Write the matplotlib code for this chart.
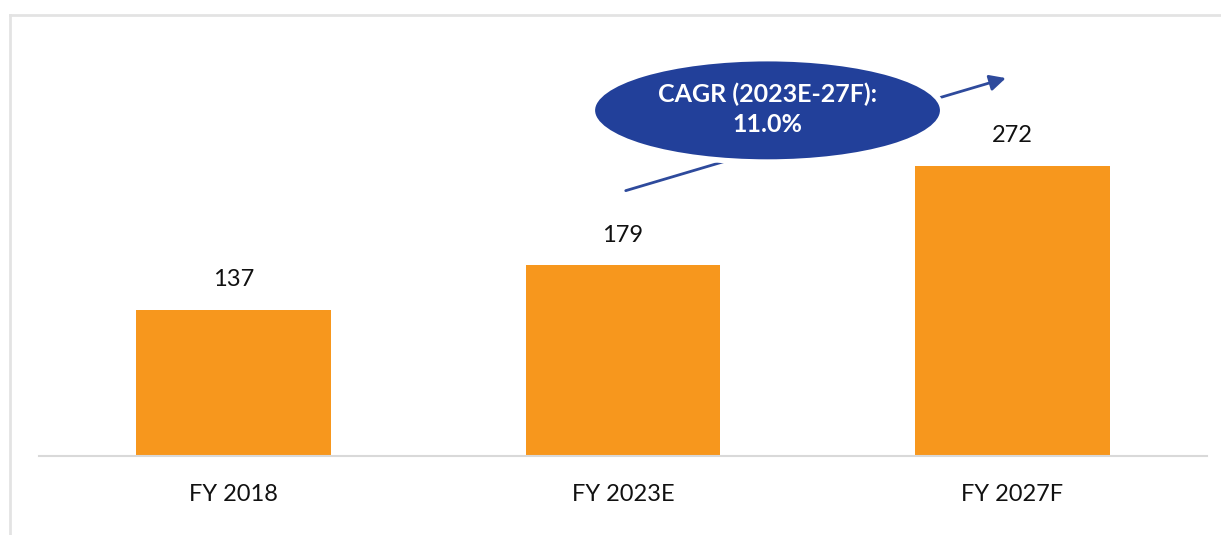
import matplotlib.pyplot as plt
from matplotlib.patches import Ellipse
from matplotlib.lines import Line2D

# market size by fiscal year
years = ["FY 2018", "FY 2023E", "FY 2027F"]
values = [137, 179, 272]
cagr_text = "CAGR (2023E-27F):\n11.0%"

bar_color = "#F7971D"
navy = "#22409A"

plt.rcParams['font.family'] = ['Lato', 'DejaVu Sans']

fig = plt.figure(figsize=(12.21, 5.35), dpi=100)
ax = fig.add_axes([0.032, 0.1477, 0.9566, 0.7776])

x = list(range(len(years)))
bars = ax.bar(x, values, width=0.5, color=bar_color, zorder=2)

for b, v in zip(bars, values):
    ax.annotate(str(v), (b.get_x() + b.get_width() / 2, v),
                xytext=(0, 14), textcoords="offset points",
                ha="center", va="bottom", fontsize=17, color="#111111")

ax.set_xlim(-0.5, 2.5)
ax.set_ylim(0, 390)
ax.set_xticks(x)
ax.set_xticklabels(years, fontsize=17, color="#111111")
ax.tick_params(axis="x", length=0, pad=20)
ax.set_yticks([])
for side in ["left", "right", "top"]:
    ax.spines[side].set_visible(False)
ax.spines["bottom"].set_color("#D9D9D9")
ax.spines["bottom"].set_linewidth(1.5)

# growth arrow running behind the CAGR bubble
ax.annotate("", xy=(1.99, 355), xytext=(1.0, 248),
            arrowprops=dict(arrowstyle="-|>", color="#2E4A9C", lw=2,
                            mutation_scale=24), zorder=3)
bubble = Ellipse((1.371, 324), 0.9, 97, facecolor=navy,
                 edgecolor="white", linewidth=4, zorder=4)
ax.add_patch(bubble)
ax.text(1.371, 325, cagr_text, ha="center", va="center", color="white",
        fontsize=18, fontweight="bold", linespacing=1.4, zorder=5)

# light frame along the top and left edge
fig.add_artist(Line2D([0.008, 1.0], [0.972, 0.972], color="#E3E3E3", lw=2,
                      transform=fig.transFigure))
fig.add_artist(Line2D([0.008, 0.008], [0.0, 0.972], color="#E3E3E3", lw=2,
                      transform=fig.transFigure))

fig.savefig("out.png", dpi=100)
